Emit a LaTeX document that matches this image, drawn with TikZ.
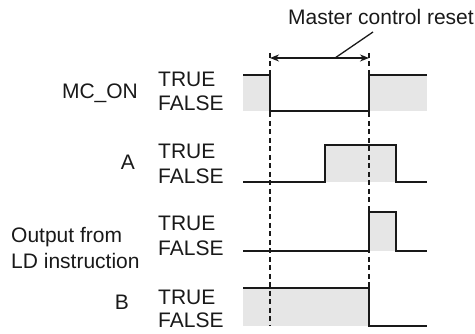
\documentclass[tikz,border=0pt]{standalone}
\usepackage{fontspec}
\setmainfont{Liberation Sans}
\usetikzlibrary{arrows.meta}
\definecolor{sig}{RGB}{25,25,25}
\definecolor{greyfill}{RGB}{230,230,230}
\begin{document}
\begin{tikzpicture}[x=1pt,y=-1pt,
  lbl/.style={inner sep=0pt,font=\fontsize{21}{26}\selectfont,text=sig},
  wave/.style={draw=sig,line width=1.8pt,line join=miter},
  guide/.style={draw=sig,line width=1.4pt,dash pattern=on 5pt off 3.5pt}]
\useasboundingbox (0,0) rectangle (475,334);
% shaded areas
\fill[greyfill] (243,75) rectangle (270,111);
\fill[greyfill] (369,75) rectangle (427,111);
\fill[greyfill] (325,145) rectangle (396,182);
\fill[greyfill] (369,212) rectangle (396,251);
\fill[greyfill] (243,288) rectangle (369,326);
% dashed guides
\coordinate (g1t) at (270,53);
\coordinate (g1b) at (270,326);
\coordinate (g2t) at (369,53);
\coordinate (g2b) at (369,326);
\draw[guide] (g1t) -- (g1b);
\draw[guide] (g2t) -- (g2b);
% waveforms
\draw[wave] (243,75) -- (270,75) -- (270,111) -- (369,111) -- (369,75) -- (427,75);
\draw[wave] (243,182) -- (325,182) -- (325,145) -- (396,145) -- (396,182) -- (427,182);
\draw[wave] (243,251) -- (369,251) -- (369,212) -- (396,212) -- (396,251) -- (427,251);
\draw[wave] (243,288) -- (369,288) -- (369,326) -- (427,326);
% dimension arrow
\coordinate (al) at (270,58);
\coordinate (ar) at (369,58);
\coordinate (am) at (335,58);
\draw[sig,line width=1.5pt,{Stealth[length=9pt,width=7pt]}-{Stealth[length=9pt,width=7pt]}] (al) -- (ar);
\node[lbl,anchor=base west] (mcr) at (288,25) {Master control reset};
\draw[sig,line width=1.3pt] (am) -- (373,32);
% labels
\node[lbl,anchor=base] (mcon) at (100,99) {MC\_ON};
\node[lbl,anchor=base west] (t1) at (158,87) {TRUE};
\node[lbl,anchor=base west] (f1) at (158,111) {FALSE};
\node[lbl,anchor=base] (la) at (128,170) {A};
\node[lbl,anchor=base west] (t2) at (158,159) {TRUE};
\node[lbl,anchor=base west] (f2) at (158,184) {FALSE};
\node[lbl,anchor=base west] (lo1) at (11,243) {Output from};
\node[lbl,anchor=base west] (lo2) at (11,269) {LD instruction};
\node[lbl,anchor=base west] (t3) at (158,231) {TRUE};
\node[lbl,anchor=base west] (f3) at (158,256) {FALSE};
\node[lbl,anchor=base] (lb) at (122,310) {B};
\node[lbl,anchor=base west] (t4) at (158,305) {TRUE};
\node[lbl,anchor=base west] (f4) at (158,328) {FALSE};
\end{tikzpicture}
\end{document}
